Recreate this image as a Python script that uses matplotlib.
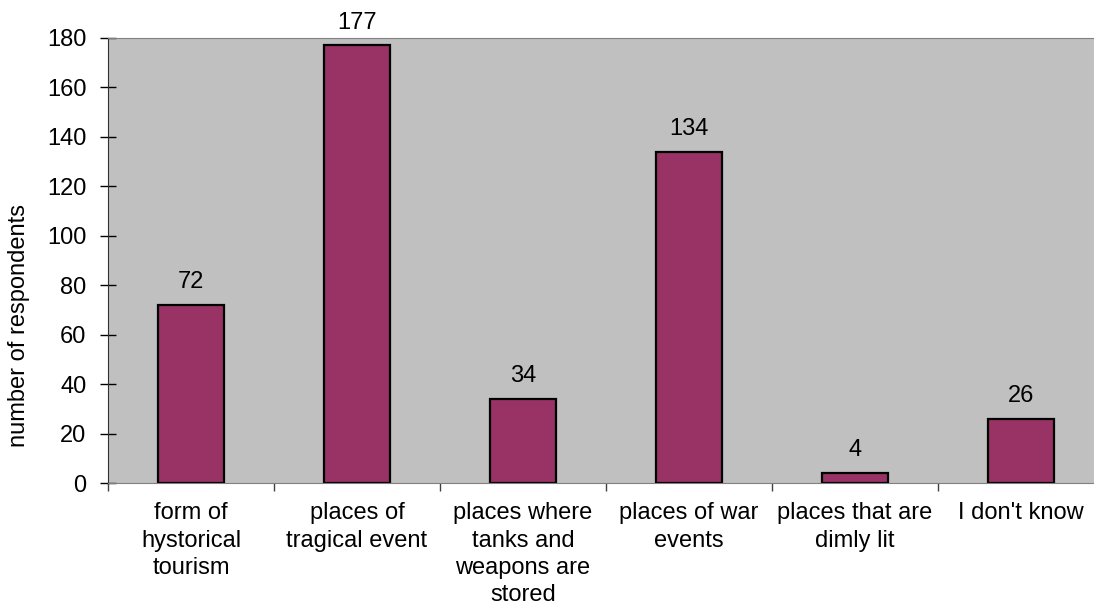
import matplotlib.pyplot as plt

categories = ['form of\nhystorical\ntourism', 'places of\ntragical event',
              'places where\ntanks and\nweapons are\nstored', 'places of war\nevents',
              'places that are\ndimly lit', "I don't know"]
respondents = [72, 177, 34, 134, 4, 26]

plt.rcParams['font.family'] = ['Liberation Sans', 'DejaVu Sans']

fig = plt.figure(figsize=(10.94, 6.05), dpi=100)
# plot area runs a little past the right edge, like the original
ax = fig.add_axes([108 / 1094, 1 - 483 / 605, 996 / 1094, 445 / 605])
ax.set_facecolor('#C0C0C0')

x = list(range(len(categories)))
bars = ax.bar(x, respondents, width=0.4, color='#993366', edgecolor='black', linewidth=1.6)

for xi, v in zip(x, respondents):
    ax.annotate(str(v), (xi, v), xytext=(0, 8.5), textcoords='offset points',
                ha='center', va='bottom', fontsize=17)

ax.set_xlim(-0.5, len(categories) - 0.5)
ax.set_ylim(0, 180)
ax.set_yticks(range(0, 181, 20))
ax.tick_params(axis='y', direction='inout', length=11, width=1, labelsize=17, pad=10)

ax.set_xticks(x)
ax.set_xticklabels(categories, fontsize=17, linespacing=1.3)
ax.tick_params(axis='x', length=0, pad=14)
ax.set_xticks([i - 0.5 for i in range(len(categories) + 1)], minor=True)
ax.tick_params(axis='x', which='minor', direction='out', length=6, width=1, color='#404040')

ax.set_ylabel('number of respondents', fontsize=17)
# label sits below the middle of the axis in the original
ax.yaxis.set_label_coords(-0.078, 0.355)

for side in ['top', 'right', 'bottom']:
    ax.spines[side].set_color('#808080')
ax.spines['left'].set_color('#303030')
ax.spines['right'].set_visible(False)

plt.savefig('out.png', dpi=100)
